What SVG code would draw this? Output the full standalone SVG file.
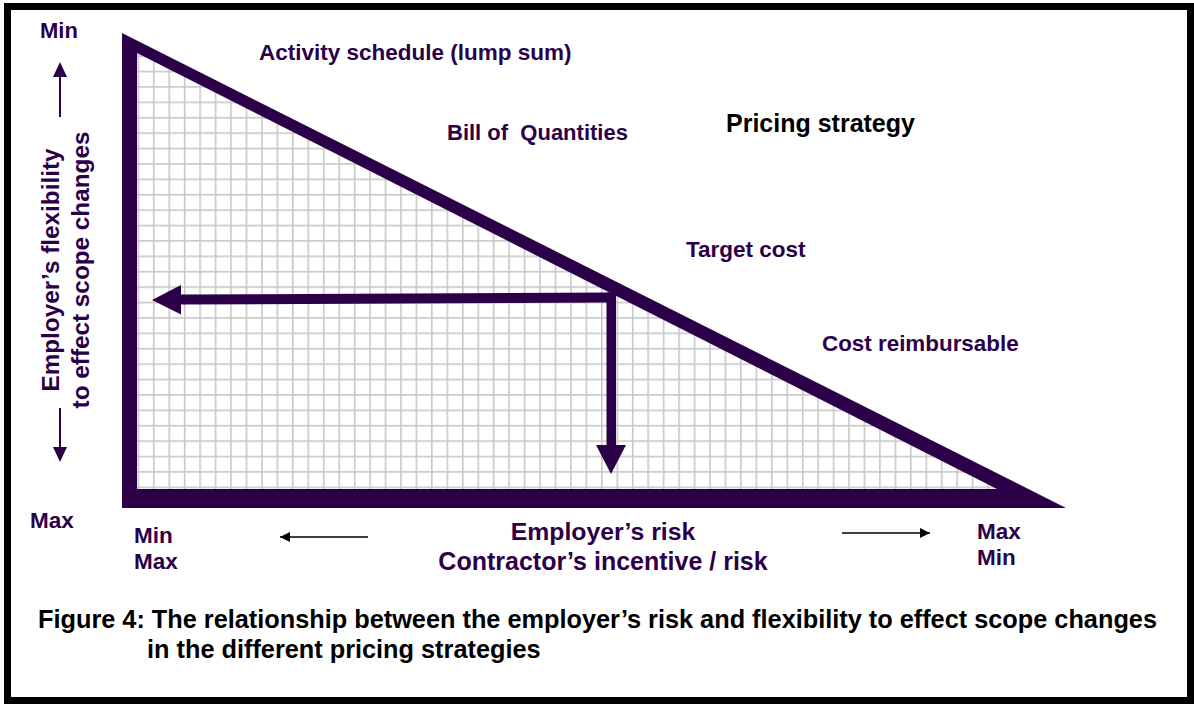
<svg xmlns="http://www.w3.org/2000/svg" width="1194" height="705" viewBox="0 0 1194 705">
  <style>
    .lbl { font-family: "Liberation Sans", Arial, sans-serif; font-weight: bold; fill: #2b0049; }
    .cap { font-family: "Liberation Sans", Arial, sans-serif; font-weight: bold; fill: #000; }
    .dark { fill: #2b0049; }
  </style>
  <defs>
    <pattern id="grid" patternUnits="userSpaceOnUse" x="137.5" y="486.5" width="15.45" height="15.4">
      <rect x="0" y="0" width="15.45" height="15.4" fill="#fff"/>
      <rect x="0" y="0" width="1.6" height="15.4" fill="#c8c8c8"/>
      <rect x="0" y="0" width="15.45" height="1.6" fill="#c8c8c8"/>
    </pattern>
    <marker id="thin" viewBox="0 0 10 10" refX="10" refY="5" markerWidth="10" markerHeight="10" markerUnits="userSpaceOnUse" orient="auto">
      <path d="M0,0 L10,5 L0,10 z" fill="#000"/>
    </marker>
  </defs>

  <!-- page frame -->
  <rect x="0" y="0" width="1194" height="705" fill="#fff"/>
  <rect x="7.5" y="6.5" width="1183" height="694" fill="none" stroke="#000" stroke-width="7"/>

  <!-- pricing triangle -->
  <g id="triangle">
    <polygon class="dark" points="122,33 1066,508 122,508"/>
    <polygon points="137,53 997,489 137,489" fill="url(#grid)"/>
  </g>

  <!-- flexibility / risk read-off arrows -->
  <g id="connectors">
    <polygon class="dark" points="181,294.5 612,292.5 612,302.5 181,304.5"/>
    <polygon class="dark" points="152,300 181,285 181,314.5"/>
    <rect class="dark" x="606.5" y="292.5" width="9.5" height="153"/>
    <polygon class="dark" points="596,445 626,445 611,474"/>
    <!-- vertical axis arrows -->
    <line x1="60" y1="117" x2="60" y2="76" stroke="#2b0049" stroke-width="2"/>
    <polygon class="dark" points="53,77 67,77 60,62"/>
    <line x1="60" y1="408" x2="60" y2="448" stroke="#2b0049" stroke-width="2"/>
    <polygon class="dark" points="53,447 67,447 60,462"/>
    <!-- horizontal axis arrows -->
    <line x1="368" y1="537" x2="280" y2="537" stroke="#000" stroke-width="1.5" marker-end="url(#thin)"/>
    <line x1="842" y1="533" x2="930" y2="533" stroke="#000" stroke-width="1.5" marker-end="url(#thin)"/>
  </g>

  <!-- strategy labels -->
  <g id="lump-sum"><text class="lbl" x="259" y="60" font-size="22.5">Activity schedule (lump sum)</text></g>
  <g id="boq"><text class="lbl" x="447" y="140" font-size="22" xml:space="preserve">Bill of  Quantities</text></g>
  <g id="pricing-strategy"><text class="cap" x="726" y="132" font-size="25">Pricing strategy</text></g>
  <g id="target-cost"><text class="lbl" x="686" y="257" font-size="22.5">Target cost</text></g>
  <g id="cost-reimbursable"><text class="lbl" x="822" y="351" font-size="22.4">Cost reimbursable</text></g>

  <!-- axis labels -->
  <g id="y-axis">
    <text class="lbl" x="40" y="38" font-size="22">Min</text>
    <text class="lbl" x="30" y="528" font-size="22.5">Max</text>
    <text class="lbl" font-size="24.3" text-anchor="middle" transform="translate(59,270) rotate(-90)">Employer’s flexibility</text>
    <text class="lbl" font-size="24.3" text-anchor="middle" transform="translate(89,270) rotate(-90)">to effect scope changes</text>
  </g>
  <g id="x-axis">
    <text class="lbl" x="134" y="543" font-size="22.5">Min</text>
    <text class="lbl" x="134" y="569" font-size="22.5">Max</text>
    <text class="lbl" x="603" y="540" font-size="24.8" text-anchor="middle">Employer’s risk</text>
    <text class="lbl" x="603" y="570" font-size="25" text-anchor="middle">Contractor’s incentive / risk</text>
    <text class="lbl" x="977" y="539" font-size="22.5">Max</text>
    <text class="lbl" x="977" y="565" font-size="22.5">Min</text>
  </g>

  <!-- caption -->
  <g id="caption">
    <text class="cap" x="38" y="628" font-size="25.3">Figure 4: The relationship between the employer’s risk and flexibility to effect scope changes</text>
    <text class="cap" x="147" y="658" font-size="25.3">in the different pricing strategies</text>
  </g>
</svg>
